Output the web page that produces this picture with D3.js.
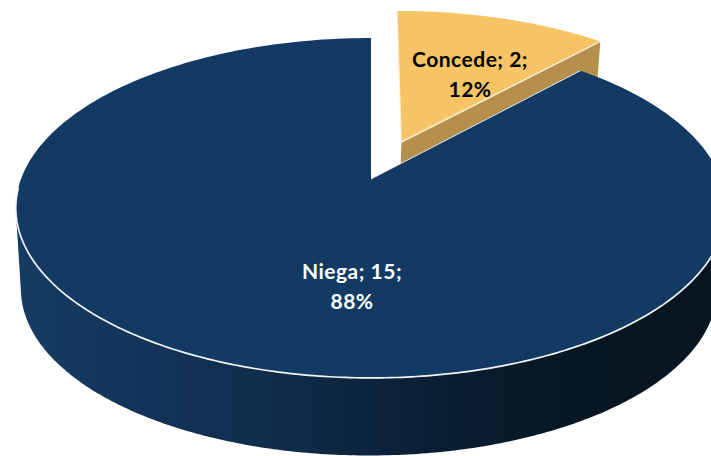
<!DOCTYPE html>
<html><head><meta charset="utf-8">
<script src="https://cdn.jsdelivr.net/npm/d3@7"></script>
<style>html,body{margin:0;padding:0;background:#fff}svg{display:block}</style>
</head><body><div id="chart"></div>
<script>
const categories = ["Concede", "Niega"];
const values = [2, 15];
const percents = ["12%", "88%"];

const W = 711, H = 456;
const textColors = ["#000000", "#ffffff"];
const labelPos = [[470, 60], [352, 272]];
const lineGap = 30;

// Perspective projection of the pie disc
const cx = 371, cy = 179, k = 0.1705, A = 165, B = 350;
const explode = [0.25, 0];
const botScale = 0.98, midY = 208, botMidY = 289, botShift = -2;

const project = (u, v) => {
  const w = 1 + k * v;
  return [cx + B * u / w, cy - A * v / w];
};
const toBottom = ([x, y]) => [cx + botShift + (x - cx) * botScale, botMidY + (y - midY) * botScale];

const arcs = d3.pie().sort(null).value(d => d)(values);

const svg = d3.select("#chart").append("svg").attr("width", W).attr("height", H).attr("viewBox", [0, 0, W, H]);
const defs = svg.append("defs");
const grad = defs.append("linearGradient").attr("id", "wall").attr("gradientUnits", "userSpaceOnUse")
  .attr("x1", 16).attr("x2", 711).attr("y1", 0).attr("y2", 0);
[[0, "#163c64"], [0.2, "#123357"], [0.42, "#0f2a47"], [0.62, "#091d30"], [0.8, "#071723"], [1, "#061520"]]
  .forEach(([o, c]) => grad.append("stop").attr("offset", o).attr("stop-color", c));

const rimAt = (theta, d, off) => project(Math.sin(theta) + d * Math.sin(off), Math.cos(theta) + d * Math.cos(off));
const samples = (a0, a1) => d3.range(0, 241).map(i => a0 + (a1 - a0) * i / 240);
const line = d3.line();

const wedge = (a, d) => {
  const off = (a.startAngle + a.endAngle) / 2;
  const apex = project(d * Math.sin(off), d * Math.cos(off));
  return { apex, rim: samples(a.startAngle, a.endAngle).map(t => rimAt(t, d, off)) };
};

const con = wedge(arcs[0], explode[0]);
const nie = wedge(arcs[1], explode[1]);
const conEnd = con.rim[con.rim.length - 1];

// Concede: cut face
svg.append("path").attr("fill", "#b5904d")
  .attr("d", line([con.apex, conEnd, toBottom(conEnd), toBottom(con.apex)]) + "Z");
// Concede: top
svg.append("path").attr("fill", "#f6c465")
  .attr("d", line([con.apex, ...con.rim]) + "Z");
svg.append("path").attr("fill", "none").attr("stroke", "#f7ecd0").attr("stroke-width", 1.6)
  .attr("d", line([con.apex, conEnd]));
svg.append("path").attr("fill", "none").attr("stroke", "#fbf1da").attr("stroke-width", 1)
  .attr("d", line([con.rim[0], con.apex]));

// Niega: front wall
const sil = Math.acos(-k);
const frontTop = samples(sil, 2 * Math.PI - sil).map(t => rimAt(t, 0, 0));
svg.append("path").attr("fill", "url(#wall)")
  .attr("d", line(d3.polygonHull([...frontTop, ...frontTop.map(toBottom)])) + "Z");
// Niega: top
svg.append("path").attr("fill", "#133a63")
  .attr("d", line([nie.apex, ...nie.rim]) + "Z");
// Niega: cut edge highlight and front rim
svg.append("path").attr("fill", "none").attr("stroke", "#dfe6ee").attr("stroke-width", 1)
  .attr("d", line([nie.apex, nie.rim[0]]));
svg.append("path").attr("fill", "none").attr("stroke", "#f2f5f8").attr("stroke-width", 1.7)
  .attr("d", line(samples(sil - 0.02, 2 * Math.PI - sil + 0.12).map(t => rimAt(t, 0, 0))));

// Labels
categories.forEach((c, i) => {
  const t = svg.append("text").attr("text-anchor", "middle")
    .attr("font-family", "Lato, 'Open Sans', sans-serif").attr("font-weight", 700).attr("font-size", 21)
    .attr("letter-spacing", 0.5)
    .attr("fill", textColors[i]);
  t.append("tspan").attr("x", labelPos[i][0]).attr("y", labelPos[i][1] + 7).text(`${c}; ${values[i]};`);
  t.append("tspan").attr("x", labelPos[i][0]).attr("y", labelPos[i][1] + 7 + lineGap).text(percents[i]);
});
</script></body></html>
